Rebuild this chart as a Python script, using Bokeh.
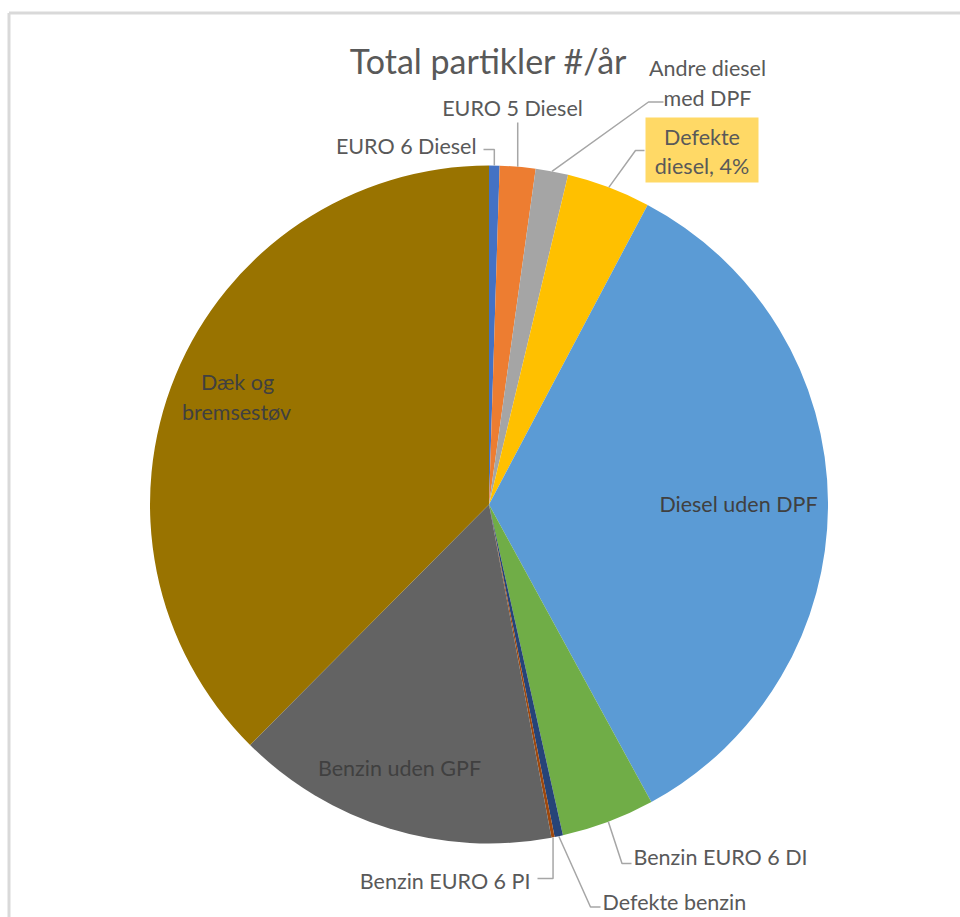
import math
from bokeh.plotting import figure
from bokeh.models import Range1d
from bokeh.core.properties import value
from bokeh.embed import file_html
from bokeh.resources import INLINE

# ---------------- data ----------------
categories = ["EURO 6 Diesel", "EURO 5 Diesel", "Andre diesel med DPF", "Defekte diesel",
              "Diesel uden DPF", "Benzin EURO 6 DI", "Defekte benzin", "Benzin EURO 6 PI",
              "Benzin uden GPF", "Dæk og bremsestøv"]
shares = [0.5, 1.7, 1.55, 4.0, 34.3, 4.45, 0.4, 0.15, 15.4, 37.55]
colors = ["#4472C4", "#ED7D31", "#A5A5A5", "#FFC000", "#5B9BD5", "#70AD47",
          "#264478", "#9E480E", "#636363", "#997300"]
title = "Total partikler #/år"

# ---------------- layout ----------------
W, H = 960, 917
CX, CY_S, R = 488.5, 504, 339          # centre (screen y) and radius in px
FONT = value("Lato")
TXT = "#595959"
LEAD = "#A6A6A6"
LSIZE = "21.5px"

def Y(ys):
    return H - ys

p = figure(width=W, height=H, output_backend="svg", toolbar_location=None,
           x_range=Range1d(0, W), y_range=Range1d(0, H), min_border=0)
p.axis.visible = False
p.grid.visible = False
p.outline_line_color = None
p.background_fill_color = "white"
p.border_fill_color = "white"

# frame (only the top and left edges are visible in the original)
p.segment(x0=[8.5, 8.5], y0=[Y(12.5), Y(12.5)], x1=[8.5, W], y1=[0, Y(12.5)],
          line_color="#D9D9D9", line_width=3)

# wedges, clockwise from 12 o'clock
total = sum(shares)
starts, ends, mids = [], [], []
cum = 0.0
for s in shares:
    a0 = math.pi / 2 - 2 * math.pi * cum / total
    cum += s
    a1 = math.pi / 2 - 2 * math.pi * cum / total
    starts.append(a0)
    ends.append(a1)
    mids.append((a0 + a1) / 2)

p.wedge(x=[CX] * len(shares), y=[Y(CY_S)] * len(shares), radius=R,
        start_angle=starts, end_angle=ends, direction="clock",
        fill_color=colors, line_color=None)

def arc_pt(i):
    a = mids[i]
    return CX + R * math.cos(a), Y(CY_S) + R * math.sin(a)

# leader lines (arc point -> elbow -> end), elbows given in screen coords
xs, ys = [], []
def leader(i, pts):
    x0, y0 = arc_pt(i)
    lx = [x0] + [q[0] if q[0] is not None else x0 for q in pts]
    ly = [y0] + [Y(q[1]) for q in pts]
    xs.append(lx)
    ys.append(ly)

leader(0, [(None, 149), (483, 149)])            # EURO 6 Diesel
leader(1, [(None, 122)])                         # EURO 5 Diesel
leader(2, [(648, 101.5), (663, 101.5)])          # Andre diesel med DPF
leader(3, [(635, 150), (644, 150)])              # Defekte diesel
leader(5, [(621.5, 863), (631, 863)])            # Benzin EURO 6 DI
leader(6, [(590, 906.5), (600, 906.5)])          # Defekte benzin
leader(7, [(None, 878), (537, 878)])             # Benzin EURO 6 PI
p.multi_line(xs=xs, ys=ys, line_color=LEAD, line_width=1.5)

# yellow callout box for "Defekte diesel"
p.quad(left=[645], right=[758], top=[Y(117)], bottom=[Y(182)],
       fill_color="#FFD966", line_color=None)

# title
p.text(x=[488], y=[Y(60)], text=[title], text_font=FONT, text_font_size="34px",
       text_color=TXT, text_align="center", text_baseline="middle")

def label(x, y, t, align="center", color=TXT, size=LSIZE):
    p.text(x=[x], y=[Y(y)], text=[t], text_font=FONT, text_font_size=size,
           text_color=color, text_align=align, text_baseline="middle")

label(476, 145, categories[0], "right")
label(512, 107, categories[1])
label(707, 67, "Andre diesel")
label(707, 97, "med DPF")
label(701.5, 136.5, "Defekte")
label(701.5, 165, "diesel, 4%")
label(738, 503, categories[4], color="#404040")
label(633, 856, categories[5], "left")
label(602, 901.5, categories[6], "left")
label(530, 880, categories[7], "right")
label(399, 767, categories[8], color="#404040")
label(237, 381.5, "Dæk og", color="#404040")
label(236, 411.5, "bremsestøv", color="#404040")

open("out.html", "w").write(file_html(p, INLINE))
